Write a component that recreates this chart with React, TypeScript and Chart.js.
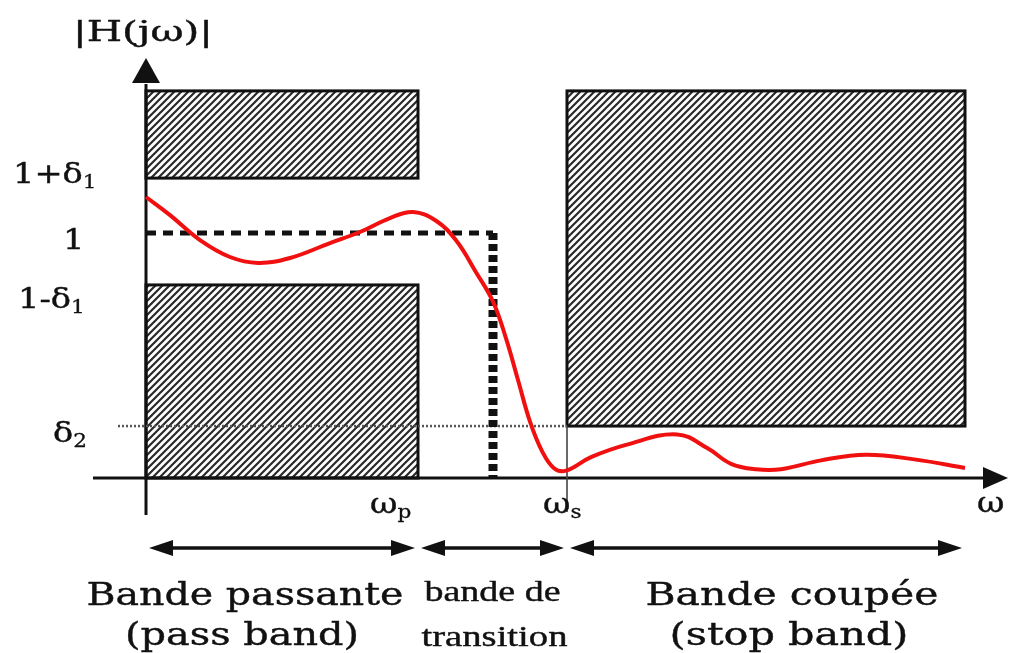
import { useEffect, useRef } from 'react';
import { Chart, registerables } from 'chart.js';

Chart.register(...registerables);

// ---------- data (frequency in arbitrary units, ω = 0 at the vertical axis) ----------
const passEdge = 2.72; // ωp
const transitionCut = 3.47; // ideal cut-off (dashed)
const stopEdge = 4.21; // ωs
const stopEnd = 8.19; // end of drawn stop band
const bandTop = 1.58; // top of the forbidden zones
const passUpper = 1.224; // 1+δ1
const unity = 1; // 1
const passLower = 0.788; // 1-δ1
const stopLower = 0.212; // δ2
const guideStart = -0.28; // start of the δ2 dotted guide

const responseX = [0, 0.24, 0.54, 0.84, 1.12, 1.44, 1.84, 2.14, 2.44, 2.67, 2.9, 3.1, 3.3, 3.47, 3.6, 3.72, 3.84, 3.96, 4.08, 4.2, 4.45, 4.8, 5.31, 5.62, 5.85, 6.1, 6.35, 6.75, 7.2, 7.7, 8.19];
const responseY = [1.147, 1.073, 0.971, 0.902, 0.878, 0.898, 0.959, 1.004, 1.061, 1.086, 1.05, 0.97, 0.84, 0.72, 0.57, 0.4, 0.23, 0.11, 0.04, 0.03, 0.085, 0.135, 0.178, 0.12, 0.058, 0.036, 0.036, 0.072, 0.095, 0.075, 0.041];

const yTickValues = [passUpper, unity, passLower, stopLower];
const yTickText = ['1+δ', '1', '1-δ', 'δ'];
const yTickSub = ['1', '', '1', '2'];

const xTickValues = [passEdge, stopEdge];
const xTickText = ['ω', 'ω'];
const xTickSub = ['p', 's'];

const axisTitleY = '|H(jω)|';
const axisTitleX = 'ω';

const bandStarts = [0, passEdge, stopEdge];
const bandEnds = [passEdge, stopEdge, stopEnd];
const bandLabelTop = ['Bande passante', 'bande de', 'Bande coupée'];
const bandLabelBottom = ['(pass band)', 'transition', '(stop band)'];

// forbidden zones: [x0, x1, y0, y1]
const zones = [
  [0, passEdge, passUpper, bandTop],
  [0, passEdge, 0, passLower],
  [stopEdge, stopEnd, stopLower, bandTop],
];

// ---------- styles / layout ----------
const WIDE = '"DejaVu Serif", serif';
const TIMES = '"Liberation Serif", "Times New Roman", serif';
const INK = '#111';
const yLabelLeft = [13, 63, 18, 53];
const yLabelDy = [5, 16, 23, 16];
const bandTextDx = [-37, 0, 26];
const bandFont = [WIDE, TIMES, WIDE];
const bandTopSize = [32, 29, 32];
const bandBottomSize = [32, 29, 32];
const bandTopWidth = [317, 136, 293];
const bandBottomWidth = [234, 146, 239];
const bandTopBase = [605, 601, 605];
const bandBottomBase = [645, 646, 645];

function drawText(ctx: CanvasRenderingContext2D, text: string, x: number, base: number, size: number, opts: { align?: 'left' | 'center'; width?: number; stretch?: number; font?: string; bold?: number }) {
  ctx.save();
  ctx.font = `${size}px ${opts.font ?? WIDE}`;
  const w = ctx.measureText(text).width;
  const sx = opts.width ? opts.width / w : opts.stretch ?? 1;
  const left = opts.align === 'center' ? x - (w * sx) / 2 : x;
  ctx.translate(left, base);
  ctx.scale(sx, 1);
  ctx.textAlign = 'left';
  ctx.textBaseline = 'alphabetic';
  ctx.fillStyle = INK;
  ctx.strokeStyle = INK;
  ctx.lineWidth = opts.bold ?? 0.4;
  ctx.lineJoin = 'round';
  ctx.fillText(text, 0, 0);
  ctx.strokeText(text, 0, 0);
  ctx.restore();
  return w * sx;
}

function drawSubLabel(ctx: CanvasRenderingContext2D, main: string, sub: string, x: number, base: number) {
  const stretch = 1.2;
  const w = drawText(ctx, main, x, base, 28, { stretch });
  if (sub) drawText(ctx, sub, x + w, base + 5, 18, { stretch, bold: 0.3 });
}

function makeHatch(ctx: CanvasRenderingContext2D) {
  const s = 7;
  const c = document.createElement('canvas');
  c.width = s;
  c.height = s;
  const g = c.getContext('2d')!;
  g.fillStyle = '#fff';
  g.fillRect(0, 0, s, s);
  g.strokeStyle = '#2a2a2a';
  g.lineWidth = 2.2;
  g.beginPath();
  g.moveTo(-1, s + 1);
  g.lineTo(s + 1, -1);
  g.moveTo(-s / 2 - 1, s / 2 + 1);
  g.lineTo(s / 2 + 1, -s / 2 - 1);
  g.moveTo(s / 2 - 1, s * 1.5 + 1);
  g.lineTo(s * 1.5 + 1, s / 2 - 1);
  g.stroke();
  return ctx.createPattern(c, 'repeat')!;
}

function tri(ctx: CanvasRenderingContext2D, pts: number[][]) {
  ctx.beginPath();
  ctx.moveTo(pts[0][0], pts[0][1]);
  ctx.lineTo(pts[1][0], pts[1][1]);
  ctx.lineTo(pts[2][0], pts[2][1]);
  ctx.closePath();
  ctx.fill();
}

const diagramPlugin = {
  id: 'diagram',
  beforeDatasetsDraw(chart: any) {
    const { ctx } = chart;
    const x = chart.scales.x;
    const y = chart.scales.y;
    const hatch = makeHatch(ctx);
    ctx.save();
    zones.forEach(([x0, x1, y0, y1]) => {
      const l = x.getPixelForValue(x0);
      const r = x.getPixelForValue(x1);
      const t = y.getPixelForValue(y1);
      const b = y.getPixelForValue(y0);
      ctx.fillStyle = hatch;
      ctx.fillRect(l, t, r - l, b - t);
      ctx.strokeStyle = INK;
      ctx.lineWidth = 3;
      ctx.strokeRect(l, t, r - l, b - t);
    });

    // axes
    const ox = x.getPixelForValue(0);
    const oy = y.getPixelForValue(0);
    const xEnd = x.getPixelForValue(stopEnd);
    const yTop = y.getPixelForValue(bandTop);
    ctx.strokeStyle = INK;
    ctx.fillStyle = INK;
    ctx.lineWidth = 3;
    ctx.beginPath();
    ctx.moveTo(ox - 53, oy);
    ctx.lineTo(xEnd + 20, oy);
    ctx.moveTo(ox, oy + 37);
    ctx.lineTo(ox, yTop - 7);
    ctx.stroke();
    tri(ctx, [[xEnd + 18, oy - 11], [xEnd + 43, oy], [xEnd + 18, oy + 11]]);
    tri(ctx, [[ox - 14, yTop - 8], [ox, yTop - 33], [ox + 14, yTop - 8]]);

    // ωs thin marker
    const sx = x.getPixelForValue(stopEdge);
    ctx.strokeStyle = '#444';
    ctx.lineWidth = 1.6;
    ctx.beginPath();
    ctx.moveTo(sx, y.getPixelForValue(stopLower));
    ctx.lineTo(sx, oy + 34);
    ctx.stroke();
    ctx.restore();
  },
  afterDatasetsDraw(chart: any) {
    const { ctx } = chart;
    const x = chart.scales.x;
    const y = chart.scales.y;
    const ox = x.getPixelForValue(0);
    const oy = y.getPixelForValue(0);

    // axis titles
    drawText(ctx, axisTitleY, ox - 3, 41, 27, { align: 'center', width: 140 });
    drawText(ctx, axisTitleX, x.getPixelForValue(stopEnd) + 12, oy + 34, 28, { stretch: 1.2 });

    // y tick labels
    yTickValues.forEach((v, i) => {
      drawSubLabel(ctx, yTickText[i], yTickSub[i], yLabelLeft[i], y.getPixelForValue(v) + yLabelDy[i]);
    });
    // x tick labels
    xTickValues.forEach((v, i) => {
      drawSubLabel(ctx, xTickText[i], xTickSub[i], x.getPixelForValue(v) - 48 + i * 24, oy + 35);
    });

    // band arrows + texts
    const ay = oy + 70;
    ctx.save();
    ctx.strokeStyle = INK;
    ctx.fillStyle = INK;
    bandStarts.forEach((s, i) => {
      const l = x.getPixelForValue(s) + 3;
      const r = x.getPixelForValue(bandEnds[i]) - 3;
      const hl = 24;
      const hw = 8;
      ctx.lineWidth = 3.5;
      ctx.beginPath();
      ctx.moveTo(l + hl - 2, ay);
      ctx.lineTo(r - hl + 2, ay);
      ctx.stroke();
      tri(ctx, [[l, ay], [l + hl, ay - hw], [l + hl, ay + hw]]);
      tri(ctx, [[r, ay], [r - hl, ay - hw], [r - hl, ay + hw]]);
      const cx = (x.getPixelForValue(s) + x.getPixelForValue(bandEnds[i])) / 2 + bandTextDx[i];
      drawText(ctx, bandLabelTop[i], cx, bandTopBase[i], bandTopSize[i], { align: 'center', width: bandTopWidth[i], font: bandFont[i] });
      drawText(ctx, bandLabelBottom[i], cx + (i === 1 ? 2 : -3), bandBottomBase[i], bandBottomSize[i], { align: 'center', width: bandBottomWidth[i], font: bandFont[i] });
    });
    ctx.restore();
  },
};

export default function App() {
  const ref = useRef<HTMLCanvasElement | null>(null);
  useEffect(() => {
    document.body.style.margin = '0';
    const canvas = ref.current!;
    const chart = new Chart(canvas, {
      type: 'line',
      data: {
        datasets: [
          {
            label: '|H(jω)|',
            data: responseX.map((v, i) => ({ x: v, y: responseY[i] })),
            borderColor: '#f01010',
            borderWidth: 4,
            pointRadius: 0,
            tension: 0.4,
            fill: false,
          },
          {
            label: 'unity',
            data: [{ x: 0, y: unity }, { x: transitionCut, y: unity }],
            borderColor: INK,
            borderWidth: 5,
            borderDash: [10, 7],
            borderCapStyle: 'butt',
            pointRadius: 0,
            fill: false,
          },
          {
            label: 'ideal cut',
            data: [{ x: transitionCut, y: unity }, { x: transitionCut, y: 0 }],
            borderColor: INK,
            borderWidth: 9,
            borderDash: [7, 4],
            borderCapStyle: 'butt',
            pointRadius: 0,
            fill: false,
          },
          {
            label: 'δ2',
            data: [{ x: guideStart, y: stopLower }, { x: stopEdge, y: stopLower }],
            borderColor: '#555',
            borderWidth: 2.5,
            borderDash: [2, 2],
            borderCapStyle: 'butt',
            pointRadius: 0,
            fill: false,
          },
        ],
      },
      options: {
        animation: false,
        responsive: false,
        devicePixelRatio: 1,
        events: [],
        layout: { padding: { left: 86, right: 3, top: 49.25, bottom: 113.75 } },
        plugins: { legend: { display: false }, tooltip: { enabled: false }, title: { display: false } },
        scales: {
          x: { type: 'linear', min: -0.6, max: 8.6, display: false },
          y: { type: 'linear', min: -0.25, max: 1.75, display: false },
        },
      } as any,
      plugins: [diagramPlugin],
    });
    return () => chart.destroy();
  }, []);
  return (
    <div style={{ position: 'absolute', left: 0, top: 0, width: 1009, height: 653, background: '#fff' }}>
      <canvas ref={ref} width={1009} height={653} style={{ display: 'block' }} />
    </div>
  );
}
